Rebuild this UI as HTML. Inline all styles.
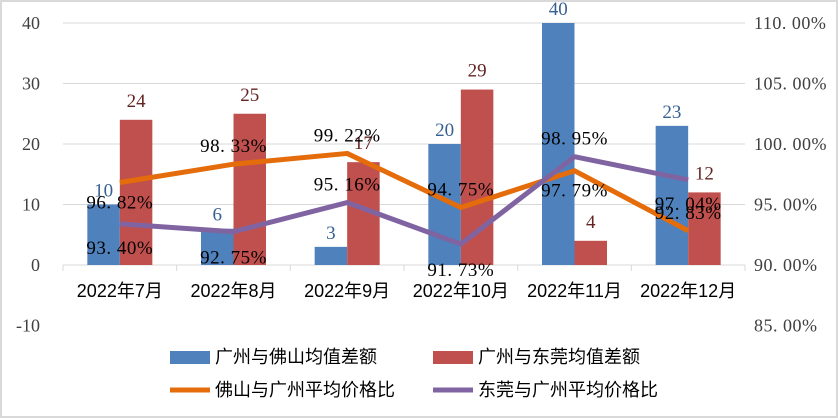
<!DOCTYPE html>
<html><head><meta charset="utf-8"><style>
body{margin:0;background:#fff}
svg{display:block;font-family:"Liberation Serif","Noto Serif CJK SC",serif}
</style></head><body>
<svg id="c" width="838" height="418">
<rect x="1" y="1" width="836" height="416" fill="#fff" stroke="#d9d9d9" stroke-width="2"/>
<g id="g"></g>
</svg>
<script>
const categories=["2022年7月","2022年8月","2022年9月","2022年10月","2022年11月","2022年12月"];
const fsDiff=[10,6,3,20,40,23];
const dgDiff=[24,25,17,29,4,12];
const fsRatio=[96.82,98.33,99.22,94.75,97.79,92.83];
const dgRatio=[93.40,92.75,95.16,91.73,98.95,97.04];
const leftTicks=[40,30,20,10,0,-10];
const rightTicks=[110,105,100,95,90,85];
const fsLabelDy=[20,-18,-18,-18,20,-18];
const dgLabelDy=[24,26,-18,26,-18,24];

const NS="http://www.w3.org/2000/svg",g=document.getElementById('g');
function el(t,a,txt){const e=document.createElementNS(NS,t);for(const k in a)e.setAttribute(k,a[k]);if(txt!=null)e.textContent=txt;g.appendChild(e);return e;}
const x0=63,x1=745,cw=(x1-x0)/categories.length;
const yL=v=>265-(v/40)*242;
const yR=v=>265-((v-90)/20)*242;
const cx=i=>x0+cw*(i+0.5);

leftTicks.forEach(t=>{
  if(t>0){const l=el('line',{x1:x0,x2:x1,y1:yL(t),y2:yL(t),stroke:'#d9d9d9','stroke-width':1});
  }
  const tx=el('text',{x:40,y:yL(t)+6,'text-anchor':'end','font-size':18,fill:'#404040'},t);
  
});
rightTicks.forEach(t=>{
  const tx=el('text',{x:754,y:yR(t)+6,'font-size':18,fill:'#404040','letter-spacing':'0.5'},t.toFixed(2).replace('.','. ')+'%');
  
});
const ax=el('line',{x1:x0,x2:x1,y1:265,y2:265,stroke:'#d9d9d9','stroke-width':1});

for(let i=0;i<=categories.length;i++){const t=el('line',{x1:x0+cw*i,x2:x0+cw*i,y1:265,y2:271,stroke:'#d9d9d9'});
}
categories.forEach((c,i)=>{const t=el('text',{x:cx(i),y:297,'text-anchor':'middle','font-size':18,fill:'#000','font-family':'"Liberation Sans","Noto Sans CJK SC",sans-serif'},c);
});

const bw=32.5;
categories.forEach((c,i)=>{
  const b=el('rect',{x:cx(i)-bw,y:Math.min(yL(fsDiff[i]),yL(0)),width:bw,height:Math.abs(yL(0)-yL(fsDiff[i])),fill:'#4f81bd'});
  
  const r=el('rect',{x:cx(i),y:Math.min(yL(dgDiff[i]),yL(0)),width:bw,height:Math.abs(yL(0)-yL(dgDiff[i])),fill:'#c0504d'});
  
  const bl=el('text',{x:cx(i)-bw/2,y:yL(fsDiff[i])-8,'text-anchor':'middle','font-size':19,fill:'#376092'},fsDiff[i]);
  
  const rl=el('text',{x:cx(i)+bw/2,y:yL(dgDiff[i])-13,'text-anchor':'middle','font-size':19,fill:'#632523'},dgDiff[i]);
  
});
function line(vals,col,name){
  const p=el('polyline',{points:vals.map((v,i)=>cx(i)+','+yR(v)).join(' '),fill:'none',stroke:col,'stroke-width':5,'stroke-linejoin':'round'});
  
}
line(fsRatio,'#e46c0a','line-foshan-ratio');
line(dgRatio,'#8064a2','line-dongguan-ratio');
function labels(vals,dy,name){vals.forEach((v,i)=>{
  const t=el('text',{x:cx(i),y:yR(v)+dy[i]+6,'text-anchor':'middle','font-size':19,fill:'#000','letter-spacing':'0.5'},v.toFixed(2).replace('.','. ')+'%');
  });}
labels(fsRatio,fsLabelDy,'line-label-foshan');
labels(dgRatio,dgLabelDy,'line-label-dongguan');

const lf='"Liberation Sans","Noto Sans CJK SC",sans-serif';
const leg=[[170,357,'rect','#4f81bd','广州与佛山均值差额'],[433,357,'rect','#c0504d','广州与东莞均值差额'],[170,390,'line','#e46c0a','佛山与广州平均价格比'],[433,390,'line','#8064a2','东莞与广州平均价格比']];
leg.forEach(l=>{
  let m;
  if(l[2]=='rect')m=el('rect',{x:l[0],y:l[1]-6,width:40,height:13,fill:l[3]});
  else m=el('line',{x1:l[0],x2:l[0]+40,y1:l[1],y2:l[1],stroke:l[3],'stroke-width':5});
  
  const t=el('text',{x:l[0]+45,y:l[1]+6,'font-size':18,fill:'#000','font-family':lf},l[4]);
  
});
</script>
</body></html>
